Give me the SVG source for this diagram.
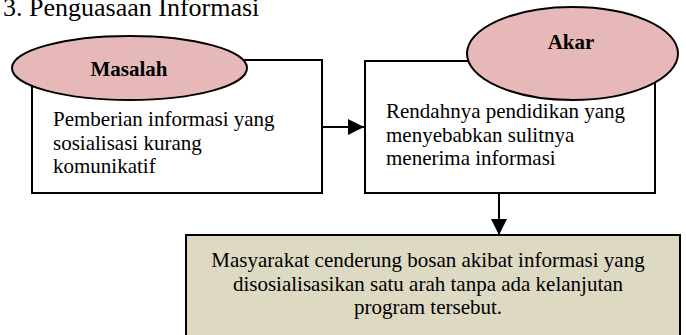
<svg xmlns="http://www.w3.org/2000/svg" width="686" height="335" viewBox="0 0 686 335">
<style>
text{font-family:"Liberation Serif","Times New Roman",serif;fill:#000}
.body{font-size:21px}
.head{font-size:21px;font-weight:bold}
.box{fill:#fff;stroke:#000;stroke-width:2}
.res{fill:#DDD9C3;stroke:#000;stroke-width:2}
.ell{fill:#E6B9B8;stroke:#000;stroke-width:2}
.con{stroke:#000;stroke-width:2;fill:none}
</style>
<defs>
<marker id="arr" markerWidth="16" markerHeight="16" refX="16" refY="8" orient="auto" markerUnits="userSpaceOnUse" viewBox="0 0 16 16">
<path d="M0,0 L16,8 L0,16 z" fill="#000"/>
</marker>
</defs>
<rect width="686" height="335" fill="#fff"/>
<text x="3" y="16" style="font-size:26px">3. Penguasaan Informasi</text>
<g id="connectors">
<line class="con" x1="322" y1="127" x2="364" y2="127" marker-end="url(#arr)"/>
<line class="con" x1="499" y1="193" x2="499" y2="235" marker-end="url(#arr)"/>
</g>
<g id="masalah">
<rect class="box" x="32" y="60" width="290" height="133"/>
<ellipse class="ell" cx="129.5" cy="68" rx="117.5" ry="32"/>
<text class="head" x="129" y="76" text-anchor="middle">Masalah</text>
<text class="body" x="53" y="126">Pemberian informasi yang</text>
<text class="body" x="53" y="149.5">sosialisasi kurang</text>
<text class="body" x="53" y="173">komunikatif</text>
</g>
<g id="akar">
<rect class="box" x="365" y="61" width="290" height="132"/>
<ellipse class="ell" cx="572.5" cy="53.5" rx="105.5" ry="46.5"/>
<text class="head" x="571" y="49" text-anchor="middle">Akar</text>
<text class="body" x="386" y="118">Rendahnya pendidikan yang</text>
<text class="body" x="386" y="141.5">menyebabkan sulitnya</text>
<text class="body" x="386" y="165">menerima informasi</text>
</g>
<g id="hasil">
<rect class="res" x="186" y="235" width="494" height="110"/>
<text class="body" x="428" y="267" text-anchor="middle">Masyarakat cenderung bosan akibat informasi yang</text>
<text class="body" x="428" y="290.5" text-anchor="middle">disosialisasikan satu arah tanpa ada kelanjutan</text>
<text class="body" x="428" y="314" text-anchor="middle">program tersebut.</text>
</g>
</svg>
